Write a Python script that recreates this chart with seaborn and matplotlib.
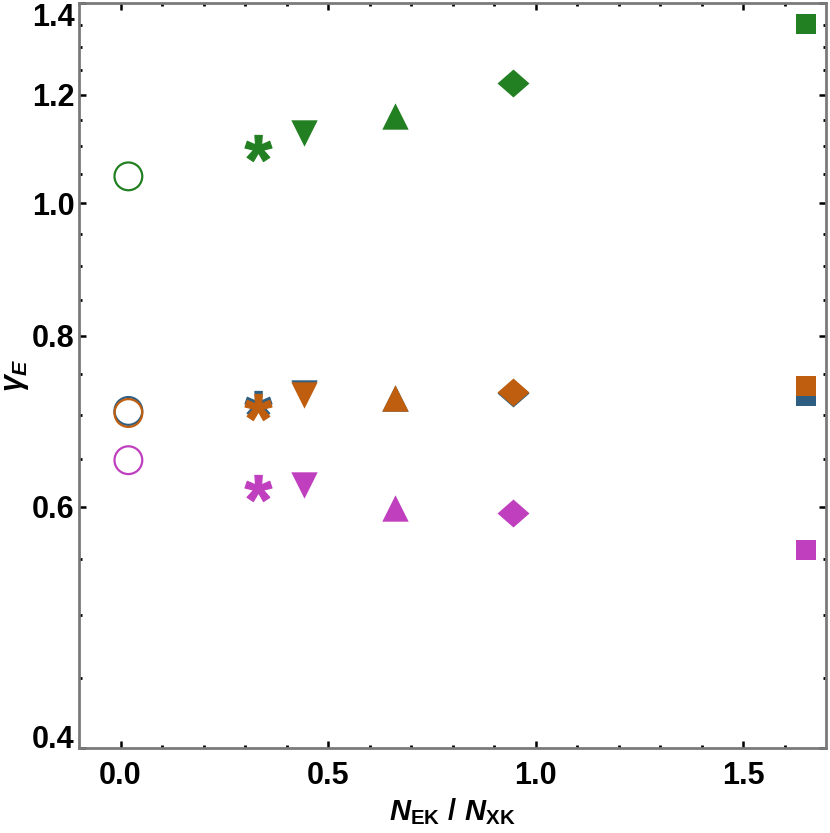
import numpy as np
import pandas as pd
import matplotlib
matplotlib.use("Agg")
import matplotlib.pyplot as plt
import matplotlib.ticker as mticker
from matplotlib.path import Path
import seaborn as sns

# ---------------- data ----------------
x_vals = [0.019, 0.332, 0.441, 0.662, 0.946, 1.653]
shapes = ["circle", "asterisk", "down", "up", "diamond", "square"]

green_y = [1.046, 1.097, 1.125, 1.157, 1.223, 1.351]
blue_y = [0.705, 0.713, 0.727, 0.720, 0.727, 0.723]
orange_y = [0.7026, 0.710, 0.724, 0.7207, 0.728, 0.735]
magenta_y = [0.649, 0.619, 0.622, 0.599, 0.594, 0.558]

series_names = ["green", "blue", "orange", "magenta"]
series_colors = {"green": "#228022", "blue": "#2E5F82",
                 "orange": "#BE5E0E", "magenta": "#BF3FBF"}

y_major = [0.4, 0.6, 0.8, 1.0, 1.2, 1.4]
y_major_labels = ["0.4", "0.6", "0.8", "1.0", "1.2", "1.4"]
y_minor = [0.45, 0.5, 0.55, 0.65, 0.7, 0.75, 0.85, 0.9, 0.95,
           1.05, 1.1, 1.15, 1.25, 1.3, 1.35]
x_major = [0.0, 0.5, 1.0, 1.5]
x_major_labels = ["0.0", "0.5", "1.0", "1.5"]
x_minor = [0.1, 0.2, 0.3, 0.4, 0.6, 0.7, 0.8, 0.9, 1.1, 1.2, 1.3, 1.4, 1.6]

rows = []
for name, ys in zip(series_names, [green_y, blue_y, orange_y, magenta_y]):
    for xv, yv, sh in zip(x_vals, ys, shapes):
        rows.append({"x": xv, "y": yv, "series": name, "shape": sh})
df = pd.DataFrame(rows)

# ---------------- style ----------------
sns.set_style("ticks")
plt.rcParams["font.family"] = ["Liberation Sans", "DejaVu Sans"]
plt.rcParams["font.weight"] = "bold"
plt.rcParams["mathtext.fontset"] = "custom"
plt.rcParams["mathtext.rm"] = "Liberation Sans:bold"
plt.rcParams["mathtext.bf"] = "Liberation Sans:bold"
plt.rcParams["mathtext.it"] = "Liberation Sans:italic:bold"
plt.rcParams["mathtext.sf"] = "Liberation Sans:bold"
plt.rcParams["axes.labelcolor"] = "black"
plt.rcParams["text.color"] = "black"

fig = plt.figure(figsize=(8.3, 8.33), dpi=100)
ax = fig.add_axes([79 / 830, (833 - 748) / 833, (826 - 79) / 830, (748 - 3) / 833])

diamond = Path([(-1.0, 0.0), (0.0, 0.875), (1.0, 0.0), (0.0, -0.875), (-1.0, 0.0)],
               [Path.MOVETO, Path.LINETO, Path.LINETO, Path.LINETO, Path.CLOSEPOLY])

marker_spec = {
    "circle": dict(marker="o", s=20.0 ** 2, open=True),
    "asterisk": dict(marker=r"$\mathbf{*}$", s=19.5 ** 2, open=False),
    "down": dict(marker="v", s=19.0 ** 2, open=False),
    "up": dict(marker="^", s=19.0 ** 2, open=False),
    "diamond": dict(marker=diamond, s=23.0 ** 2, open=False),
    "square": dict(marker="s", s=15.0 ** 2, open=False),
}

for name in series_names:
    c = series_colors[name]
    for sh in shapes:
        sub = df[(df["series"] == name) & (df["shape"] == sh)]
        spec = marker_spec[sh]
        if spec["open"]:
            sns.scatterplot(data=sub, x="x", y="y", ax=ax, marker=spec["marker"],
                            s=spec["s"], facecolor="none", edgecolor=c,
                            linewidth=1.6, zorder=3, legend=False)
        elif sh == "asterisk":
            sns.scatterplot(data=sub, x="x", y="y", ax=ax, marker=spec["marker"],
                            s=spec["s"], color=c, edgecolor=c, linewidth=0.8,
                            zorder=3, legend=False)
        else:
            sns.scatterplot(data=sub, x="x", y="y", ax=ax, marker=spec["marker"],
                            s=spec["s"], color=c, edgecolor=c, linewidth=0,
                            zorder=3, legend=False)

ax.set_yscale("log")
ax.set_ylim(0.4, 1.4)
ax.set_xlim(-0.1, 1.7)

ax.yaxis.set_major_locator(mticker.FixedLocator(y_major))
ax.yaxis.set_major_formatter(mticker.FixedFormatter(y_major_labels))
ax.yaxis.set_minor_locator(mticker.FixedLocator(y_minor))
ax.yaxis.set_minor_formatter(mticker.NullFormatter())
ax.xaxis.set_major_locator(mticker.FixedLocator(x_major))
ax.xaxis.set_major_formatter(mticker.FixedFormatter(x_major_labels))
ax.xaxis.set_minor_locator(mticker.FixedLocator(x_minor))

ax.tick_params(which="both", direction="in", top=True, right=True,
               color="black", labelcolor="black")
ax.tick_params(which="major", length=5, width=1.8, labelsize=22)
ax.tick_params(which="minor", length=2.5, width=2.0)
ax.tick_params(axis="y", which="major", pad=3)
ax.tick_params(axis="x", which="major", pad=9)

for sp in ax.spines.values():
    sp.set_color("#7a7a7a")
    sp.set_linewidth(2.0)

for lab in ax.get_yticklabels():
    lab.set_fontweight("bold")
    if lab.get_text() == "1.4":
        lab.set_verticalalignment("top")
    if lab.get_text() == "0.4":
        lab.set_verticalalignment("baseline")
for lab in ax.get_xticklabels():
    lab.set_fontweight("bold")

ax.set_xlabel(r"$N_{\mathrm{EK}}\ \mathit{/}\ N_{\mathrm{XK}}$", fontsize=21,
              color="black", labelpad=4)
ax.set_ylabel(r"$\gamma_{E}$", fontsize=22, color="black")
ax.yaxis.set_label_coords(-0.064, 0.5)

fig.savefig("out.png", dpi=100)
